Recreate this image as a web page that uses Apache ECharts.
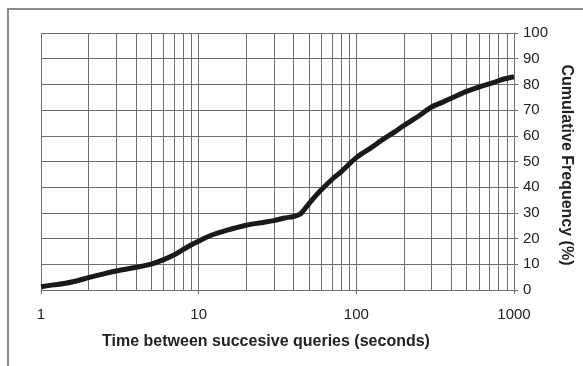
<!DOCTYPE html>
<html>
<head>
<meta charset="utf-8">
<script src="https://cdn.jsdelivr.net/npm/echarts@6/dist/echarts.min.js"></script>
<style>
  html, body { margin: 0; padding: 0; background: #fff; }
  #chart { width: 583px; height: 366px; }
</style>
</head>
<body>
<div id="chart"></div>
<script>
// seconds between queries (log axis) and cumulative frequency (%)
var times = [1, 1.2, 1.4, 1.7, 2, 2.5, 3, 3.5, 4, 5, 6, 7, 8, 9, 10, 12, 15, 20, 25, 30, 35, 40, 44, 47, 50, 55, 60, 70, 80, 90, 100, 110, 125, 145, 175, 200, 250, 300, 350, 420, 500, 625, 750, 850, 1000];
var freq = [1.3, 2, 2.5, 3.6, 4.8, 6.3, 7.4, 8.2, 8.8, 10.1, 11.8, 13.7, 15.8, 17.6, 19, 21.3, 23.2, 25.2, 26.2, 27, 28, 28.6, 29.5, 31.5, 33.5, 36.5, 39, 43, 46, 49, 51.5, 53.3, 55.5, 58.3, 61.5, 64, 67.8, 71.2, 73, 75.2, 77.3, 79.3, 80.8, 82, 83];

// x tick labels (decades) and minor grid positions
var xTicks = [1, 10, 100, 1000];
var minorX = [];
[1, 10, 100].forEach(function (d) {
  for (var k = 2; k <= 9; k++) minorX.push(k * d);
});

var xTitle = 'Time between succesive queries (seconds)';
var yTitle = 'Cumulative Frequency (%)';

var gridColor = '#6e6e6e';
var textColor = '#222';
var font = 'Liberation Sans, Arial, Helvetica, sans-serif';

var lineData = times.map(function (t, i) { return [t, freq[i]]; });

var chart = echarts.init(document.getElementById('chart'), null, { renderer: 'canvas' });

chart.setOption({
  animation: false,
  backgroundColor: '#fff',
  grid: { left: 41, right: 69, top: 33, bottom: 76 },
  xAxis: {
    type: 'log',
    logBase: 10,
    min: 1,
    max: 1000,
    axisLine: { show: true, lineStyle: { color: gridColor, width: 1 } },
    axisTick: { show: true, length: 4, lineStyle: { color: gridColor } },
    axisLabel: {
      color: textColor, fontSize: 15, fontFamily: font, margin: 17,
      formatter: function (v) { return xTicks.indexOf(v) >= 0 ? String(v) : ''; }
    },
    splitLine: { show: true, lineStyle: { color: gridColor, width: 1 } }
  },
  yAxis: {
    type: 'value',
    position: 'right',
    min: 0,
    max: 100,
    interval: 10,
    axisLine: { show: true, lineStyle: { color: gridColor, width: 1 } },
    axisTick: { show: true, length: 4, lineStyle: { color: gridColor } },
    axisLabel: { color: textColor, fontSize: 15, fontFamily: font, margin: 9 },
    splitLine: { show: true, lineStyle: { color: gridColor, width: 1 } }
  },
  graphic: [
    {
      type: 'rect',
      shape: { x: 8, y: 9, width: 700, height: 500 },
      style: { fill: 'none', stroke: '#8a8a8a', lineWidth: 2 },
      silent: true
    },
    {
      type: 'text',
      x: 266, y: 342,
      style: {
        text: xTitle, fill: textColor, font: 'bold 16px ' + font,
        align: 'center', verticalAlign: 'middle'
      }
    },
    {
      type: 'text',
      x: 566, y: 165,
      rotation: -Math.PI / 2,
      style: {
        text: yTitle, fill: textColor, font: 'bold 16px ' + font,
        align: 'center', verticalAlign: 'middle'
      }
    }
  ],
  series: [
    {
      // minor vertical gridlines at 2..9 of each decade
      type: 'line',
      data: [],
      silent: true,
      markLine: {
        silent: true,
        symbol: 'none',
        animation: false,
        label: { show: false },
        lineStyle: { color: gridColor, width: 1, type: 'solid' },
        data: minorX.map(function (v) { return { xAxis: v }; })
      }
    },
    {
      type: 'line',
      data: lineData,
      showSymbol: false,
      smooth: 0.3,
      z: 5,
      lineStyle: { color: '#1a1a1a', width: 5 }
    }
  ]
});
</script>
</body>
</html>
